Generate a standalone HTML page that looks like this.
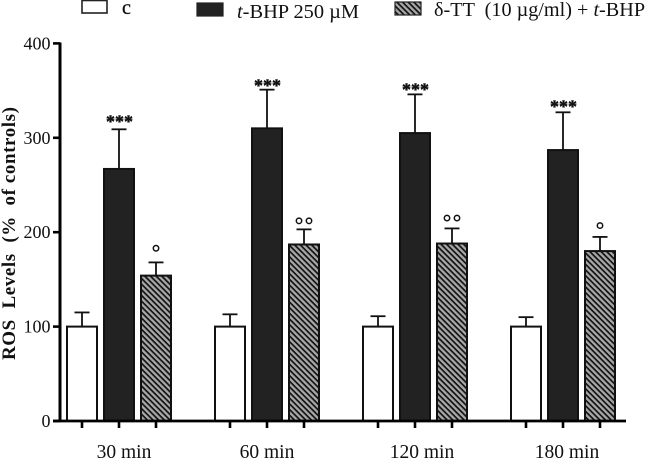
<!DOCTYPE html>
<html>
<head>
<meta charset="utf-8">
<style>
html,body{margin:0;padding:0;background:#fff;width:646px;height:460px;overflow:hidden}
svg{display:block}
text{font-family:"Liberation Serif",serif;fill:#111}
</style>
</head>
<body>
<svg id="chart" width="646" height="460" viewBox="0 0 646 460" xmlns="http://www.w3.org/2000/svg">
<defs>
<pattern id="hatch" patternUnits="userSpaceOnUse" width="4" height="4" patternTransform="rotate(45)">
<rect width="4" height="4" fill="#a8a8a8"/>
<rect y="0" width="4" height="1.7" fill="#111"/>
</pattern>
</defs>
<g id="marks"></g>
<g id="axes"></g>
<g>
<rect x="82" y="0.5" width="25" height="12.5" fill="#fff" stroke="#222" stroke-width="1.6"/>
<text x="122" y="14" font-size="20" stroke="#111" stroke-width="0.3">c</text>
<rect x="197" y="3" width="26" height="13" fill="#222" stroke="#222" stroke-width="1.2"/>
<text x="237" y="18" font-size="20.4"><tspan font-style="italic">t</tspan>-BHP 250 µM</text>
<rect x="395" y="2" width="26" height="13" fill="url(#hatch)" stroke="#222" stroke-width="1.2"/>
<text x="434" y="16" font-size="20.2" xml:space="preserve">δ-TT  (10 µg/ml) + <tspan font-style="italic">t</tspan>-BHP</text>
</g>
<text transform="translate(15,360) rotate(-90)" font-size="19" font-weight="bold" textLength="253" xml:space="preserve">ROS  Levels  (%  of controls)</text>
<script>
var categories = ['30 min', '60 min', '120 min', '180 min'];
var yTicks = [0, 100, 200, 300, 400];
var controlValues = [100, 100, 100, 100];
var controlErrors = [15, 13, 11, 10];
var tbhpValues = [267, 310, 305, 287];
var tbhpErrors = [42, 41, 41, 40];
var dttValues = [154, 187, 188, 180];
var dttErrors = [14, 16, 16, 15];
var tbhpMarks = ['***', '***', '***', '***'];
var tbhpMarkLevels = [321, 359, 355, 337];
var dttMarks = [1, 2, 2, 1];
var dttMarkLevels = [183, 212, 215, 207];

var NS = 'http://www.w3.org/2000/svg';
var marks = document.getElementById('marks');
var axes = document.getElementById('axes');
function yScale(v) { return 421 - v * 0.944; }
function groupX(i) { return 67 + i * 148; }
function make(tag, attrs, parent) {
  var el = document.createElementNS(NS, tag);
  for (var k in attrs) { el.setAttribute(k, attrs[k]); }
  parent.appendChild(el);
  return el;
}
var barW = 30;
var seriesList = [
  { values: controlValues, errors: controlErrors, offset: 0, fill: '#fff', name: 'control' },
  { values: tbhpValues, errors: tbhpErrors, offset: 37, fill: '#222', name: 'tbhp' },
  { values: dttValues, errors: dttErrors, offset: 74, fill: 'url(#hatch)', name: 'dtt' }
];
seriesList.forEach(function (s) {
  s.values.forEach(function (v, i) {
    var x = groupX(i) + s.offset;
    var cx = x + barW / 2;
    var top = yScale(v);
    var errTop = yScale(v + s.errors[i]);
    var stem = make('line', { x1: cx, x2: cx, y1: top, y2: errTop, stroke: '#111', 'stroke-width': 1.8 }, marks);
    
    
    var cap = make('line', { x1: cx - 7.5, x2: cx + 7.5, y1: errTop, y2: errTop, stroke: '#111', 'stroke-width': 1.8 }, marks);
    
    
    var bar = make('rect', { x: x, y: top, width: barW, height: 421 - top, fill: s.fill, stroke: '#111', 'stroke-width': 2 }, marks);
    
    
  });
});
tbhpMarks.forEach(function (m, i) {
  var t = make('text', { x: groupX(i) + 52.5, y: yScale(tbhpMarkLevels[i]) + 9.5, 'font-size': 18, 'font-weight': 'bold', 'text-anchor': 'middle', stroke: '#111', 'stroke-width': 0.5 }, marks);
  
  
  t.textContent = m;
});
dttMarks.forEach(function (n, i) {
  var cx = groupX(i) + 89;
  var cy = yScale(dttMarkLevels[i]);
  for (var k = 0; k < n; k++) {
    var dx = n === 1 ? 0 : (k === 0 ? -5 : 5);
    var c = make('circle', { cx: cx + dx, cy: cy, r: 2.7, fill: 'none', stroke: '#111', 'stroke-width': 1.5 }, marks);
    
    
  }
});
var yLine = make('line', { x1: 60, x2: 60, y1: 42.5, y2: 422, stroke: '#000', 'stroke-width': 3 }, axes);


var xLine = make('line', { x1: 53, x2: 626, y1: 421, y2: 421, stroke: '#000', 'stroke-width': 2.8 }, axes);


yTicks.forEach(function (v) {
  var y = yScale(v);
  var tick = make('line', { x1: 53, x2: 60, y1: y, y2: y, stroke: '#000', 'stroke-width': 2.6 }, axes);
  
  
  var lab = make('text', { x: 50.5, y: y + 6, 'font-size': 18, 'text-anchor': 'end' }, axes);
  
  
  lab.textContent = v;
});
function labelNudge(i) { return i === 0 ? 5 : i === 1 ? 0 : i === 2 ? 7 : 4; }
categories.forEach(function (c, i) {
  [0, 37, 74].forEach(function (off) {
    var x = groupX(i) + off + barW / 2;
    var tick = make('line', { x1: x, x2: x, y1: 421, y2: 428, stroke: '#000', 'stroke-width': 2.6 }, axes);
    
    
  });
  var lab = make('text', { x: groupX(i) + 52 + labelNudge(i), y: 458, 'font-size': 19.5, 'text-anchor': 'middle' }, axes);
  
  
  lab.textContent = c;
});
</script>
</svg>
</body>
</html>
